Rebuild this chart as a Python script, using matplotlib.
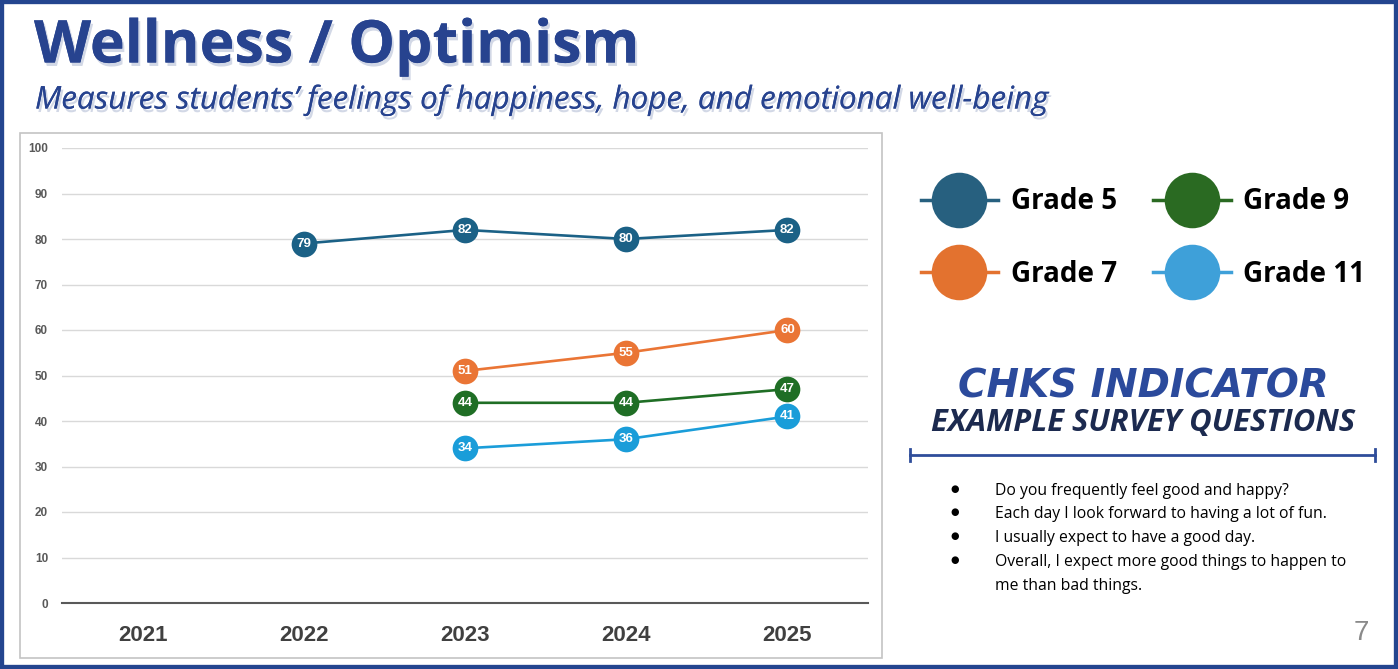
import matplotlib.pyplot as plt
import matplotlib.patheffects as pe
from matplotlib.lines import Line2D
from matplotlib.patches import Rectangle
import numpy as np

# data
years = ['2021', '2022', '2023', '2024', '2025']
grade_5 = [np.nan, 79, 82, 80, 82]
grade_7 = [np.nan, np.nan, 51, 55, 60]
grade_9 = [np.nan, np.nan, 44, 44, 47]
grade_11 = [np.nan, np.nan, 34, 36, 41]
series_names = ['Grade 5', 'Grade 7', 'Grade 9', 'Grade 11']
y_ticks = list(range(0, 101, 10))
questions = [
    'Do you frequently feel good and happy?',
    'Each day I look forward to having a lot of fun.',
    'I usually expect to have a good day.',
    'Overall, I expect more good things to happen to\nme than bad things.',
]

line_colors = ['#1b6186', '#ea7535', '#1f6e25', '#1a9dd9']
legend_colors = ['#27607f', '#e3722f', '#2a6a22', '#3ea0d9']
BLUE = '#27438f'
W, H = 1398, 669

fig = plt.figure(figsize=(W / 100, H / 100), dpi=100)
fig.patch.set_facecolor('white')


def px(x, y):
    return x / W, 1 - y / H


# outer border and chart panel
fig.add_artist(Rectangle((0, 0), 1, 1, transform=fig.transFigure, fill=False,
                         edgecolor='#24458f', lw=6, zorder=10))
x0, y0 = px(20, 658)
x1, y1 = px(882, 133)
fig.add_artist(Rectangle((x0, y0), x1 - x0, y1 - y0, transform=fig.transFigure,
                         fill=False, edgecolor='#c4c4c4', lw=1.2))

# titles
shadow = [pe.withSimplePatchShadow(offset=(1.5, -2.5), shadow_rgbFace='#8090b8', alpha=0.35), pe.Normal()]
fig.text(*px(34, 47), 'Wellness / Optimism', family='Open Sans', weight='bold',
         fontsize=42.5, color=BLUE, va='center', ha='left', path_effects=shadow)
fig.text(*px(35, 100), 'Measures students\u2019 feelings of happiness, hope, and emotional well-being',
         family='Open Sans', style='italic', fontsize=22.6, color=BLUE, va='center', ha='left',
         path_effects=shadow)

# chart
al, ab = px(62, 603)
ar, at = px(868, 148)
ax = fig.add_axes([al, ab, ar - al, at - ab])
x = np.arange(len(years))
all_series = [grade_5, grade_7, grade_9, grade_11]
for vals, color in zip(all_series, line_colors):
    ax.plot(x, vals, color=color, lw=1.9, marker='o', markersize=18.5,
            markeredgewidth=0, zorder=3)
    for xi, v in zip(x, vals):
        if not np.isnan(v):
            ax.text(xi, v, f'{v:.0f}', color='white', fontsize=9.5, weight='bold',
                    family='Liberation Sans', ha='center', va='center', zorder=4)

ax.set_xlim(-0.5, 4.5)
ax.set_ylim(0, 100)
ax.set_yticks(y_ticks)
ax.set_xticks(x)
ax.set_xticklabels(years)
ax.grid(axis='y', color='#d9d9d9', lw=1)
ax.set_axisbelow(True)
for s in ['top', 'right', 'left']:
    ax.spines[s].set_visible(False)
ax.spines['bottom'].set_color('#595959')
ax.spines['bottom'].set_linewidth(1.5)
ax.tick_params(axis='both', length=0)
ax.tick_params(axis='y', pad=10, labelsize=8.5, labelcolor='#595959')
ax.tick_params(axis='x', pad=16, labelsize=16, labelcolor='#404040')
for lab in ax.get_yticklabels() + ax.get_xticklabels():
    lab.set_fontweight('bold')
    lab.set_family('Liberation Sans')

# legend
handles = [Line2D([], [], color=c, lw=2.5, marker='o', markersize=40, markeredgewidth=0)
           for c in legend_colors]
fig.legend(handles, series_names, loc='center', bbox_to_anchor=px(1143, 238), ncol=2,
           frameon=False, prop={'family': 'Open Sans', 'weight': 'bold', 'size': 20},
           handlelength=2.8, handletextpad=0.45, columnspacing=1.3, labelspacing=1.55)

# indicator panel
fig.text(*px(1143, 387), 'CHKS INDICATOR', family='DejaVu Sans', weight='heavy',
         style='italic', fontsize=28, color='#2b4a9c', ha='center', va='center')
fig.text(*px(1143, 423), 'EXAMPLE SURVEY QUESTIONS', family='Open Sans', weight='bold',
         style='italic', fontsize=22.3, color='#1c2a4f', ha='center', va='center')
lx0, ly = px(910, 455)
lx1, _ = px(1375, 455)
fig.add_artist(Line2D([lx0, lx1], [ly, ly], transform=fig.transFigure, color='#2f4d9a', lw=2))
for lx in (lx0, lx1):
    fig.add_artist(Line2D([lx, lx], [ly - 0.009, ly + 0.009], transform=fig.transFigure,
                          color='#2f4d9a', lw=2))

y_pos = 489
for q in questions:
    fig.text(*px(955, y_pos), '\u25cf', fontsize=7, color='black', ha='center', va='center',
             family='DejaVu Sans')
    fig.text(*px(995, y_pos - 6), q, family='Open Sans', fontsize=11.3, color='black',
             ha='left', va='top', linespacing=1.72)
    y_pos += 23.5 * (q.count('\n') + 1)

fig.text(*px(1361, 633), '7', family='Liberation Sans', fontsize=20, color='#8a8a8a',
         ha='center', va='center')

plt.savefig('out.png', dpi=100)
